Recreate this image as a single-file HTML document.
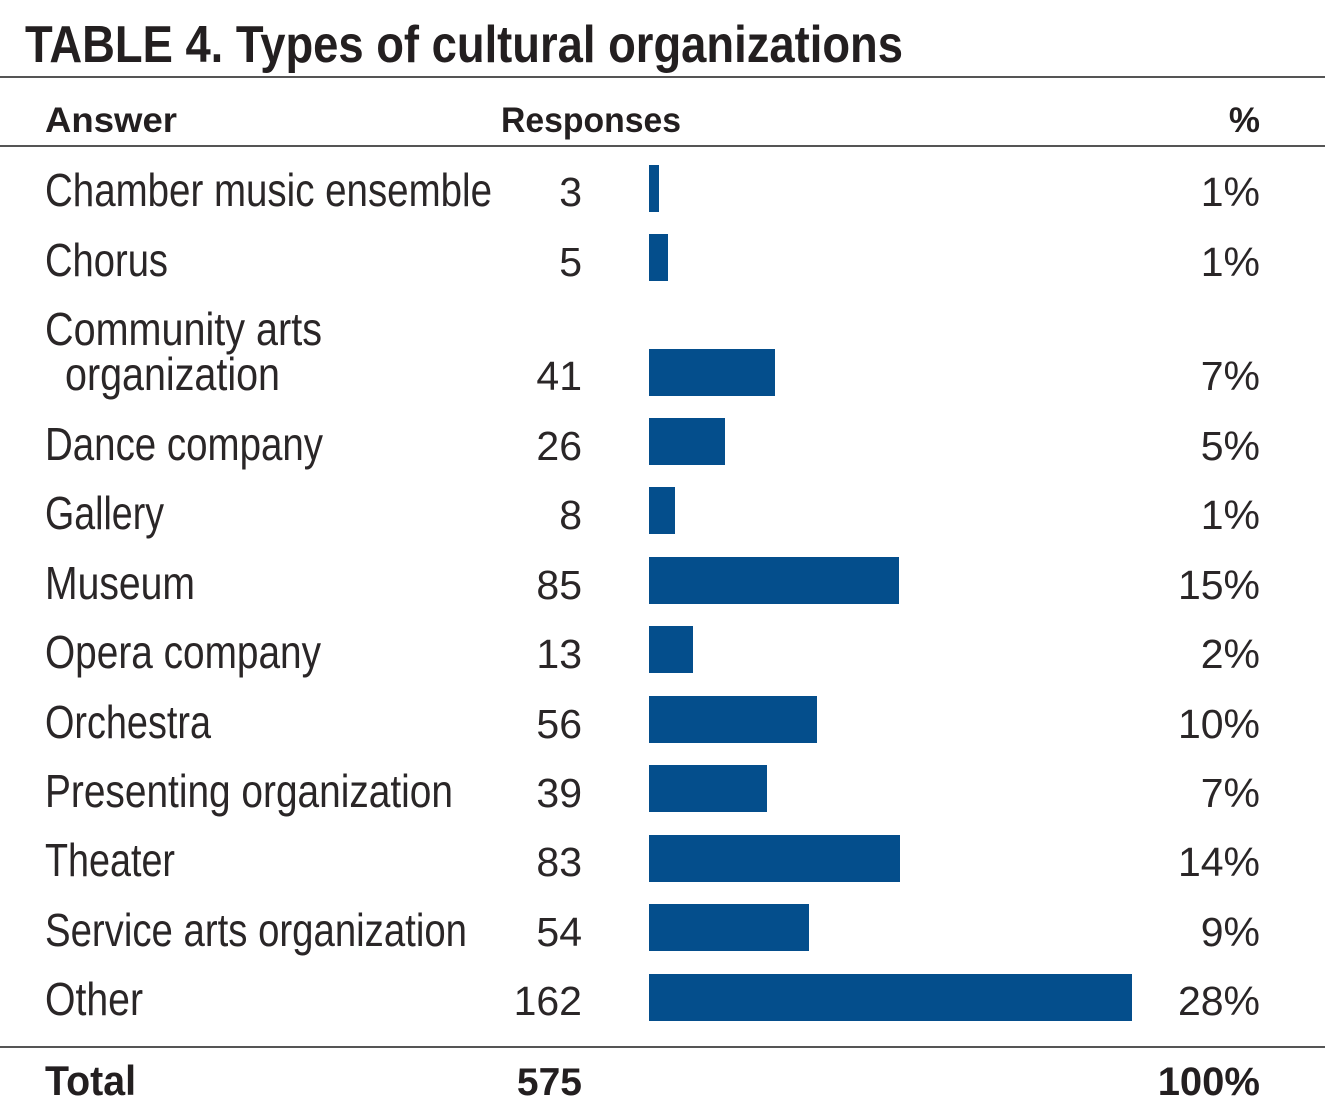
<!DOCTYPE html>
<html><head><meta charset="utf-8"><style>
html,body{margin:0;padding:0;background:#fff;}
svg{display:block;}
text{font-family:"Liberation Sans",sans-serif;fill:#231f20;}
.t{font-size:46px;fill:#2a2627;}
.n{font-size:41px;fill:#2a2627;}
.h{font-size:35px;font-weight:bold;}
</style></head><body>
<svg width="1325" height="1118" viewBox="0 0 1325 1118" xmlns="http://www.w3.org/2000/svg">
<text x="25" y="62" font-size="52" font-weight="bold" textLength="878" lengthAdjust="spacingAndGlyphs">TABLE 4. Types of cultural organizations</text>
<rect x="0" y="76" width="1325" height="2" fill="#555"/>
<text class="h" x="45" y="132" textLength="132" lengthAdjust="spacingAndGlyphs">Answer</text>
<text class="h" x="501" y="132" textLength="180" lengthAdjust="spacingAndGlyphs">Responses</text>
<text class="h" x="1260" y="132" text-anchor="end">%</text>
<rect x="0" y="145" width="1325" height="2" fill="#555"/>
<g>
<text class="t" x="45" y="206" textLength="447" lengthAdjust="spacingAndGlyphs">Chamber music ensemble</text>
<text class="t" x="45" y="276" textLength="123" lengthAdjust="spacingAndGlyphs">Chorus</text>
<text class="t" x="45" y="345" textLength="277" lengthAdjust="spacingAndGlyphs">Community arts</text>
<text class="t" x="65" y="390" textLength="215" lengthAdjust="spacingAndGlyphs">organization</text>
<text class="t" x="45" y="460" textLength="278" lengthAdjust="spacingAndGlyphs">Dance company</text>
<text class="t" x="45" y="529" textLength="119" lengthAdjust="spacingAndGlyphs">Gallery</text>
<text class="t" x="45" y="599" textLength="150" lengthAdjust="spacingAndGlyphs">Museum</text>
<text class="t" x="45" y="668" textLength="276" lengthAdjust="spacingAndGlyphs">Opera company</text>
<text class="t" x="45" y="738" textLength="166" lengthAdjust="spacingAndGlyphs">Orchestra</text>
<text class="t" x="45" y="807" textLength="408" lengthAdjust="spacingAndGlyphs">Presenting organization</text>
<text class="t" x="45" y="876" textLength="130" lengthAdjust="spacingAndGlyphs">Theater</text>
<text class="t" x="45" y="946" textLength="422" lengthAdjust="spacingAndGlyphs">Service arts organization</text>
<text class="t" x="45" y="1015" textLength="98" lengthAdjust="spacingAndGlyphs">Other</text>
</g>
<g text-anchor="end">
<text class="n" x="582" y="206">3</text>
<text class="n" x="582" y="276">5</text>
<text class="n" x="582" y="390">41</text>
<text class="n" x="582" y="460">26</text>
<text class="n" x="582" y="529">8</text>
<text class="n" x="582" y="599">85</text>
<text class="n" x="582" y="668">13</text>
<text class="n" x="582" y="738">56</text>
<text class="n" x="582" y="807">39</text>
<text class="n" x="582" y="876">83</text>
<text class="n" x="582" y="946">54</text>
<text class="n" x="582" y="1015">162</text>
<text class="n" x="1260" y="206">1%</text>
<text class="n" x="1260" y="276">1%</text>
<text class="n" x="1260" y="390">7%</text>
<text class="n" x="1260" y="460">5%</text>
<text class="n" x="1260" y="529">1%</text>
<text class="n" x="1260" y="599">15%</text>
<text class="n" x="1260" y="668">2%</text>
<text class="n" x="1260" y="738">10%</text>
<text class="n" x="1260" y="807">7%</text>
<text class="n" x="1260" y="876">14%</text>
<text class="n" x="1260" y="946">9%</text>
<text class="n" x="1260" y="1015">28%</text>
</g>
<g fill="#044e8c">
<rect x="649" y="165" width="10" height="47"/>
<rect x="649" y="234" width="19" height="47"/>
<rect x="649" y="349" width="126" height="47"/>
<rect x="649" y="418" width="76" height="47"/>
<rect x="649" y="487" width="26" height="47"/>
<rect x="649" y="557" width="250" height="47"/>
<rect x="649" y="626" width="44" height="47"/>
<rect x="649" y="696" width="168" height="47"/>
<rect x="649" y="765" width="118" height="47"/>
<rect x="649" y="835" width="251" height="47"/>
<rect x="649" y="904" width="160" height="47"/>
<rect x="649" y="974" width="483" height="47"/>
</g>
<rect x="0" y="1046" width="1325" height="2" fill="#555"/>
<text x="45" y="1095" font-size="42" font-weight="bold" textLength="91" lengthAdjust="spacingAndGlyphs">Total</text>
<text x="582" y="1095" font-size="39" font-weight="bold" text-anchor="end">575</text>
<text x="1260" y="1095" font-size="40" font-weight="bold" text-anchor="end">100%</text>
</svg>
</body></html>
